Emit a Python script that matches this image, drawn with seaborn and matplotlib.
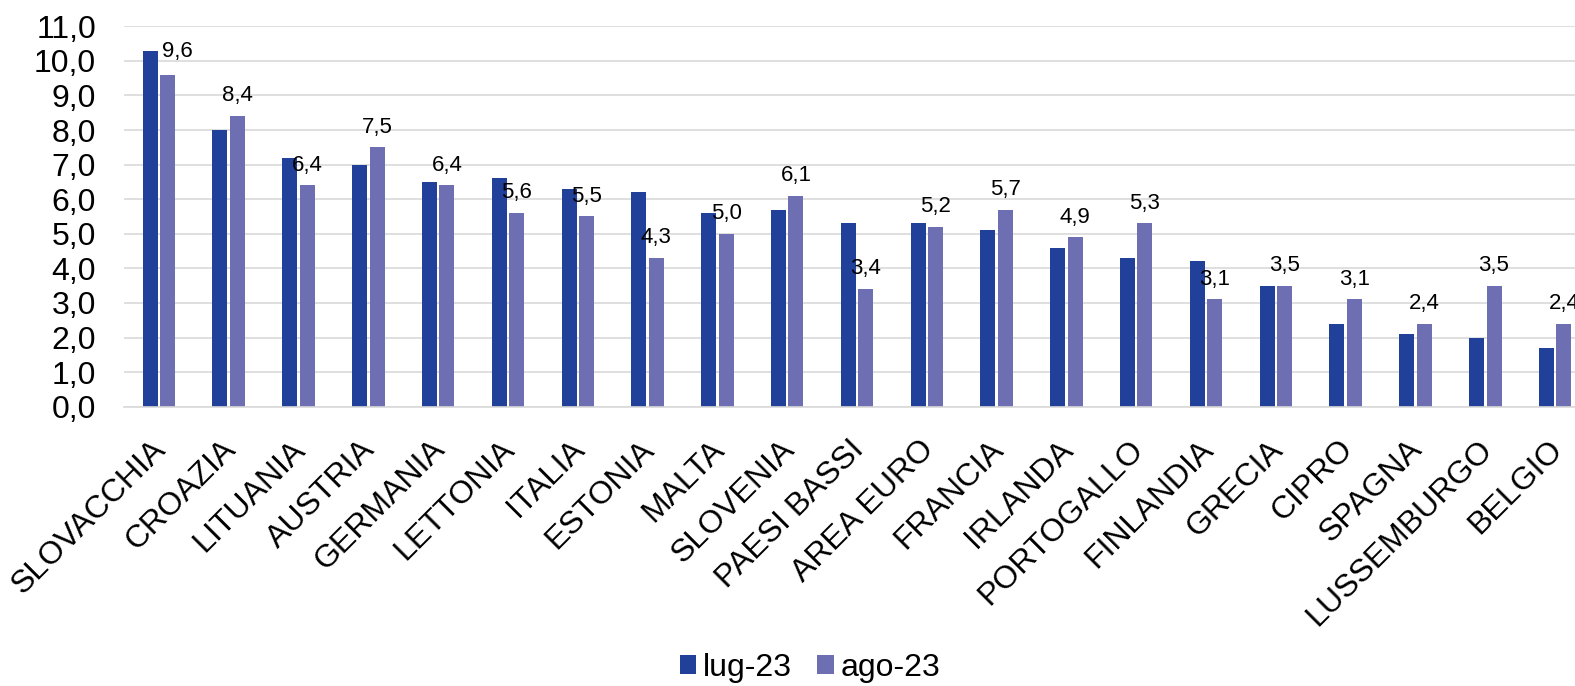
import matplotlib
matplotlib.use("Agg")
import matplotlib.pyplot as plt
import matplotlib.transforms as mtransforms
from matplotlib.ticker import FuncFormatter, MultipleLocator
import pandas as pd
import seaborn as sns

# Inflation by country, two consecutive months
countries = ["SLOVACCHIA", "CROAZIA", "LITUANIA", "AUSTRIA", "GERMANIA", "LETTONIA",
             "ITALIA", "ESTONIA", "MALTA", "SLOVENIA", "PAESI BASSI", "AREA EURO",
             "FRANCIA", "IRLANDA", "PORTOGALLO", "FINLANDIA", "GRECIA", "CIPRO",
             "SPAGNA", "LUSSEMBURGO", "BELGIO"]
lug_23 = [10.3, 8.0, 7.2, 7.0, 6.5, 6.6, 6.3, 6.2, 5.6, 5.7, 5.3, 5.3,
          5.1, 4.6, 4.3, 4.2, 3.5, 2.4, 2.1, 2.0, 1.7]
ago_23 = [9.6, 8.4, 6.4, 7.5, 6.4, 5.6, 5.5, 4.3, 5.0, 6.1, 3.4, 5.2,
          5.7, 4.9, 5.3, 3.1, 3.5, 3.1, 2.4, 3.5, 2.4]
series_names = ["lug-23", "ago-23"]

df = pd.DataFrame({
    "paese": countries * 2,
    "periodo": [series_names[0]] * len(countries) + [series_names[1]] * len(countries),
    "valore": lug_23 + ago_23,
})

sns.set_theme(style="white")
plt.rcParams["font.family"] = ["Liberation Sans", "DejaVu Sans"]

W, H = 1575, 686
fig = plt.figure(figsize=(W / 100, H / 100), dpi=100)
ax_left, ax_bottom, ax_top, ax_right = 124, 406.7, 26.3, 1590
ax = fig.add_axes([ax_left / W, (H - ax_bottom) / H,
                   (ax_right - ax_left) / W, (ax_bottom - ax_top) / H])

palette = {"lug-23": "#21409A", "ago-23": "#6E6FB2"}
sns.barplot(data=df, x="paese", y="valore", hue="periodo", order=countries,
            hue_order=series_names, palette=palette, saturation=1,
            width=0.5, gap=0.14, linewidth=0, ax=ax)

ax.set_ylim(0, 11)
ax.set_xlim(-0.5, len(countries) - 0.5)
ax.yaxis.set_major_locator(MultipleLocator(1))
ax.yaxis.set_major_formatter(FuncFormatter(lambda v, _: f"{v:.1f}".replace(".", ",")))
ax.grid(axis="y", color="#D9D9D9", linewidth=1.2)
ax.set_axisbelow(True)
for side in ["left", "right", "top"]:
    ax.spines[side].set_visible(False)
ax.spines["bottom"].set_color("#D9D9D9")
ax.spines["bottom"].set_linewidth(1.2)
ax.set_xlabel("")
ax.set_ylabel("")

ax.tick_params(axis="y", length=0, pad=20, labelsize=23, labelcolor="black")
ax.tick_params(axis="x", length=0, pad=20, labelsize=23, labelcolor="black")
ax.set_xticks(range(len(countries)))
ax.set_xticklabels(countries, rotation=45, ha="right", va="top", rotation_mode="anchor")
shift = mtransforms.ScaledTranslation(-8 / 100, 0, fig.dpi_scale_trans)
for lbl in ax.get_xticklabels():
    lbl.set_transform(lbl.get_transform() + shift)

# value labels on the August bars
ago_container = ax.containers[1]
texts = ax.bar_label(ago_container,
                     labels=[f"{v:.1f}".replace(".", ",") for v in ago_23],
                     padding=7, fontsize=16, color="black")
# keep the first label clear of the taller neighbouring bar
texts[0].xyann = (7, 9)

handles, labels = ax.get_legend_handles_labels()
if ax.get_legend() is not None:
    ax.get_legend().remove()
fig.legend(handles, labels, loc="center", bbox_to_anchor=(810 / W, 1 - 668 / H),
           ncol=2, frameon=False, fontsize=23, handlelength=0.52, handleheight=0.52,
           handletextpad=0.2, columnspacing=0.8, labelcolor="black")

fig.savefig("out.png", dpi=100)
